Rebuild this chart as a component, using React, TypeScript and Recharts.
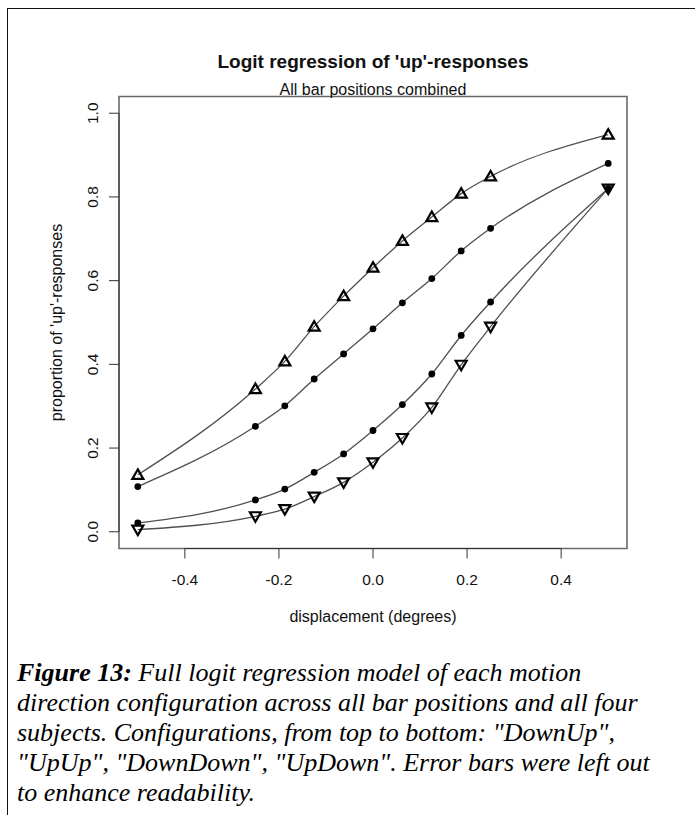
import {
  ComposedChart,
  Line,
  XAxis,
  YAxis,
  ReferenceArea,
  ReferenceLine,
} from 'recharts'

// displacement (degrees)
const displacement = [-0.5, -0.25, -0.1875, -0.125, -0.0625, 0, 0.0625, 0.125, 0.1875, 0.25, 0.5]

// proportion of 'up' responses per configuration
const downUp = [0.136, 0.341, 0.407, 0.49, 0.563, 0.631, 0.695, 0.752, 0.808, 0.849, 0.949]
const upUp = [0.108, 0.252, 0.301, 0.365, 0.425, 0.485, 0.547, 0.605, 0.671, 0.725, 0.88]
const downDown = [0.021, 0.076, 0.102, 0.142, 0.186, 0.242, 0.304, 0.377, 0.469, 0.549, 0.82]
const upDown = [0.005, 0.037, 0.054, 0.084, 0.118, 0.166, 0.224, 0.297, 0.399, 0.49, 0.82]

const xTicks = [-0.4, -0.2, 0, 0.2, 0.4]
const yTicks = [0, 0.2, 0.4, 0.6, 0.8, 1]

const rows = displacement.map((x, i) => ({
  x,
  downUp: downUp[i],
  upUp: upUp[i],
  downDown: downDown[i],
  upDown: upDown[i],
}))

const SANS = '"Liberation Sans", Arial, sans-serif'
const CURVE = '#505050'

function TriUp({ cx, cy }: any) {
  if (cx == null || cy == null) return null
  return (
    <path
      d={`M${cx},${cy - 5.5}L${cx + 5.5},${cy + 4}L${cx - 5.5},${cy + 4}Z`}
      fill="none"
      stroke="#000"
      strokeWidth={2.2}
      strokeLinejoin="miter"
    />
  )
}

function TriDown({ cx, cy }: any) {
  if (cx == null || cy == null) return null
  return (
    <path
      d={`M${cx},${cy + 5.5}L${cx + 5.5},${cy - 4}L${cx - 5.5},${cy - 4}Z`}
      fill="none"
      stroke="#000"
      strokeWidth={2.2}
      strokeLinejoin="miter"
    />
  )
}

function Dot({ cx, cy }: any) {
  if (cx == null || cy == null) return null
  return <circle cx={cx} cy={cy} r={3.4} fill="#000" />
}

function XTick({ x, y, payload }: any) {
  const v = payload.value
  return (
    <text x={x} y={y + 26.5} textAnchor="middle" fontSize={15.5} fontFamily={SANS} fill="#111">
      {v.toFixed(1)}
    </text>
  )
}

function YTick({ x, y, payload }: any) {
  const v = payload.value
  const tx = x - 11
  return (
    <text
      x={tx}
      y={y}
      transform={`rotate(-90, ${tx}, ${y})`}
      textAnchor="middle"
      fontSize={15.5}
      fontFamily={SANS}
      fill="#111"
    >
      {v.toFixed(1)}
    </text>
  )
}

export default function App() {
  return (
    <div style={{ position: 'relative', width: 695, height: 815, overflow: 'hidden', background: '#fff' }}>
      <style>{'body{margin:0;overflow:hidden}'}</style>
      <div
        style={{
          position: 'absolute',
          left: 7,
          top: 8,
          width: 720,
          height: 840,
          borderTop: '1.5px solid #111',
          borderLeft: '1.5px solid #111',
        }}
      />
      <div style={{ position: 'absolute', left: 0, top: 0 }}>
        <ComposedChart
          width={660}
          height={640}
          data={rows}
          margin={{ top: 96.5, right: 33, bottom: 31.5, left: 0 }}
        >
          <XAxis
            dataKey="x"
            type="number"
            domain={[-0.54, 0.54]}
            ticks={xTicks}
            interval={0}
            height={60}
            axisLine={false}
            tickSize={10}
            tickMargin={0}
            tickLine={{ stroke: '#333' }}
            tick={<XTick />}
            label={{
              content: ({ viewBox }: any) => (
                <text
                  x={viewBox.x + viewBox.width / 2}
                  y={viewBox.y + 73}
                  textAnchor="middle"
                  fontSize={16}
                  fontFamily={SANS}
                  fill="#111"
                >
                  displacement (degrees)
                </text>
              ),
            }}
          />
          <YAxis
            type="number"
            domain={[-0.04, 1.04]}
            ticks={yTicks}
            interval={0}
            width={119}
            axisLine={false}
            tickSize={10}
            tickMargin={0}
            tickLine={{ stroke: '#333' }}
            tick={<YTick />}
            label={{
              content: ({ viewBox }: any) => {
                const lx = 61.5
                const ly = viewBox.y + viewBox.height / 2
                return (
                  <text
                    x={lx}
                    y={ly}
                    transform={`rotate(-90, ${lx}, ${ly})`}
                    textAnchor="middle"
                    fontSize={16}
                    fontFamily={SANS}
                    fill="#111"
                  >
                    proportion of 'up'-responses
                  </text>
                )
              },
            }}
          />
          <ReferenceArea
            x1={-0.54}
            x2={0.54}
            y1={-0.04}
            y2={1.04}
            fill="none"
            stroke="#6a6a6a"
            strokeWidth={1.6}
          />
          <ReferenceLine
            segment={[{ x: -0.54, y: 0 }, { x: -0.54, y: 1 }]}
            stroke="#333"
            strokeWidth={1}
          />
          <ReferenceLine
            segment={[{ x: -0.4, y: -0.04 }, { x: 0.4, y: -0.04 }]}
            stroke="#333"
            strokeWidth={1}
          />
          <Line
            dataKey="downUp"
            type="monotone"
            stroke={CURVE}
            strokeWidth={1.3}
            dot={(p: any) => <TriUp key={`du-${p.index}`} {...p} />}
            activeDot={false}
            isAnimationActive={false}
          />
          <Line
            dataKey="upUp"
            type="monotone"
            stroke={CURVE}
            strokeWidth={1.3}
            dot={(p: any) => <Dot key={`uu-${p.index}`} {...p} />}
            activeDot={false}
            isAnimationActive={false}
          />
          <Line
            dataKey="downDown"
            type="monotone"
            stroke={CURVE}
            strokeWidth={1.3}
            dot={(p: any) => <Dot key={`dd-${p.index}`} {...p} />}
            activeDot={false}
            isAnimationActive={false}
          />
          <Line
            dataKey="upDown"
            type="monotone"
            stroke={CURVE}
            strokeWidth={1.3}
            dot={(p: any) => <TriDown key={`ud-${p.index}`} {...p} />}
            activeDot={false}
            isAnimationActive={false}
          />
        </ComposedChart>
      </div>
      <svg
        width={695}
        height={120}
        style={{ position: 'absolute', left: 0, top: 0, pointerEvents: 'none' }}
      >
        <text x={373} y={68} textAnchor="middle" fontSize={19} fontWeight="bold" fontFamily={SANS} fill="#111">
          Logit regression of 'up'-responses
        </text>
        <text x={373} y={95} textAnchor="middle" fontSize={16} fontFamily={SANS} fill="#111">
          All bar positions combined
        </text>
      </svg>
      <div
        style={{
          position: 'absolute',
          left: 17,
          top: 658,
          fontFamily: '"Liberation Serif", "Times New Roman", serif',
          fontSize: 26,
          lineHeight: '30px',
          fontStyle: 'italic',
          whiteSpace: 'nowrap',
          color: '#000',
        }}
      >
        <div>
          <b>Figure 13:</b> Full logit regression model of each motion
        </div>
        <div>direction configuration across all bar positions and all four</div>
        <div>subjects. Configurations, from top to bottom: "DownUp",</div>
        <div>"UpUp", "DownDown", "UpDown". Error bars were left out</div>
        <div>to enhance readability.</div>
      </div>
    </div>
  )
}
